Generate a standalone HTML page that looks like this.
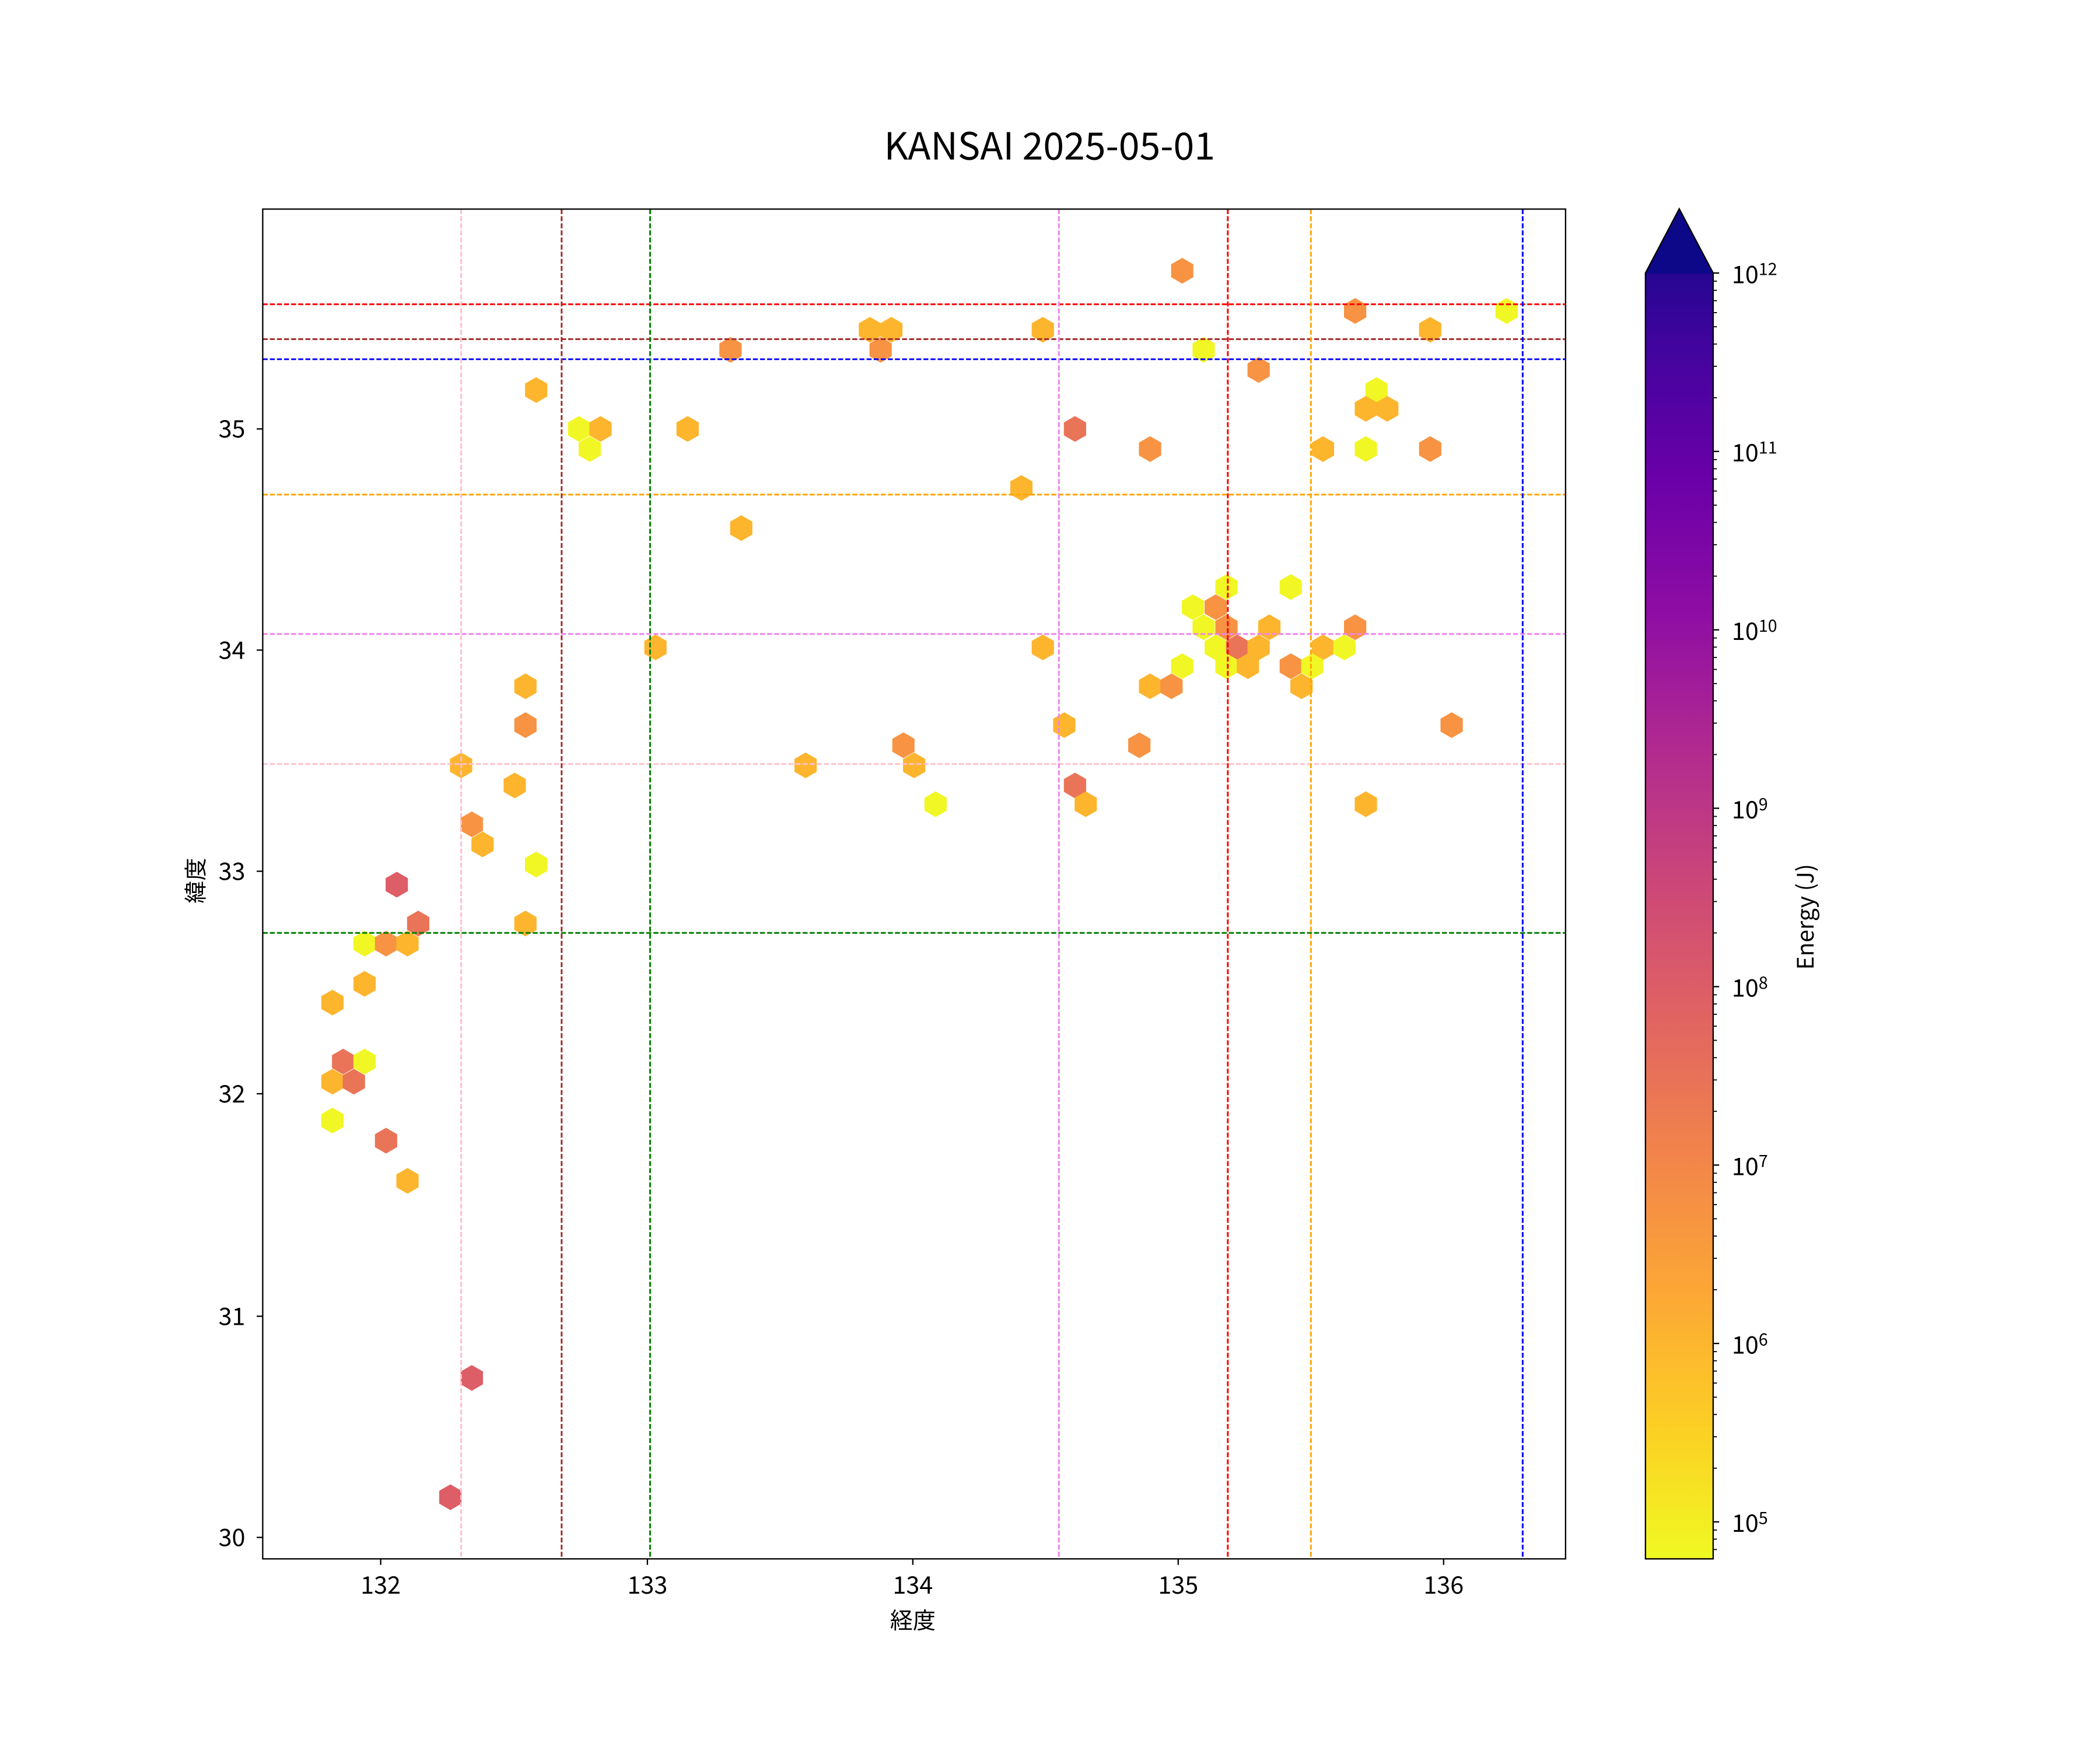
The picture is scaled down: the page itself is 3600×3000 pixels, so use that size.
<!DOCTYPE html>
<html><head><meta charset="utf-8"><style>
html,body{margin:0;padding:0;background:#fff}
svg{display:block}
text{font-family:"Noto Sans CJK JP","Liberation Sans",sans-serif;fill:#000}
</style></head><body>
<svg id="s" xmlns="http://www.w3.org/2000/svg" width="3600" height="3000" viewBox="0 0 1566.7 1305.6">
<defs>
<linearGradient id="pl" x1="0" y1="0" x2="0" y2="1">
<stop offset="0" stop-color="#0d0887"/><stop offset="0.1" stop-color="#41049d"/><stop offset="0.2" stop-color="#6a00a8"/><stop offset="0.3" stop-color="#8f0da4"/><stop offset="0.4" stop-color="#b12a90"/><stop offset="0.5" stop-color="#cc4778"/><stop offset="0.6" stop-color="#e16462"/><stop offset="0.7" stop-color="#f2844b"/><stop offset="0.8" stop-color="#fca636"/><stop offset="0.9" stop-color="#fcce25"/><stop offset="1" stop-color="#f0f921"/>
</linearGradient>
</defs>
<rect width="1566.7" height="1305.6" fill="#fff"/>
<g id="hex"></g>
<g id="lines" stroke-width="1.3" stroke-dasharray="3.7,1.6" fill="none">
<line x1="196" x2="1168" y1="227" y2="227" stroke="#ff0000"/>
<line x1="196" x2="1168" y1="253" y2="253" stroke="#a52a2a"/>
<line x1="196" x2="1168" y1="268" y2="268" stroke="#0000ff"/>
<line x1="196" x2="1168" y1="369" y2="369" stroke="#ffa500"/>
<line x1="196" x2="1168" y1="473" y2="473" stroke="#ee82ee"/>
<line x1="196" x2="1168" y1="570" y2="570" stroke="#ffc0cb"/>
<line x1="196" x2="1168" y1="696" y2="696" stroke="#008000"/>
<line y1="156" y2="1163" x1="344" x2="344" stroke="#ffc0cb"/>
<line y1="156" y2="1163" x1="419" x2="419" stroke="#a52a2a"/>
<line y1="156" y2="1163" x1="485" x2="485" stroke="#008000"/>
<line y1="156" y2="1163" x1="790" x2="790" stroke="#ee82ee"/>
<line y1="156" y2="1163" x1="916" x2="916" stroke="#ff0000"/>
<line y1="156" y2="1163" x1="978" x2="978" stroke="#ffa500"/>
<line y1="156" y2="1163" x1="1136" x2="1136" stroke="#0000ff"/>
</g>
<rect x="196" y="156" width="972" height="1007" fill="none" stroke="#000" stroke-width="1"/>
<g id="ticks" stroke="#000" stroke-width="1"></g>
<g id="tl" font-size="18"></g>
<text x="783" y="119" font-size="28" text-anchor="middle">KANSAI 2025-05-01</text>
<text x="681" y="1215" font-size="17" text-anchor="middle">経度</text>
<text transform="translate(152,657) rotate(-90)" font-size="17" text-anchor="middle">緯度</text>
<path d="M1227.6,203.7 L1252.8,155.8 L1278.1,203.7 L1278.1,1163 L1227.6,1163 Z" fill="url(#pl)" stroke="none"/>
<path d="M1227.6,204.2 L1252.8,155.8 L1278.1,204.2 Z" fill="#0d0887"/>
<path d="M1227.6,203.7 L1252.8,155.8 L1278.1,203.7 L1278.1,1163 L1227.6,1163 Z" fill="none" stroke="#000" stroke-width="1"/>
<g id="cb" stroke="#000"></g>
<text transform="translate(1353,684) rotate(-90)" font-size="17" text-anchor="middle">Energy (J)</text>
</svg>
<script>
var NS="http://www.w3.org/2000/svg";
function el(p,n,a,t){var e=document.createElementNS(NS,n);for(var k in a)e.setAttribute(k,a[k]);if(t!=null)e.textContent=t;p.appendChild(e);return e;}
var C={Y:"#f0f724",G:"#fdb52e",O:"#f79342",D:"#ea7457",R:"#dd5e66"};
var H=[[882,202,"O"],[1011,232,"O"],[1124,232,"Y"],[649,246,"G"],[665,246,"G"],[778,246,"G"],[1067,246,"G"],[545,261,"O"],[657,261,"O"],[898,261,"Y"],[939,276,"O"],[400,291,"G"],[1027,291,"Y"],[1019,305,"G"],[1035,305,"G"],[432,320,"Y"],[448,320,"G"],[513,320,"G"],[802,320,"D"],[440,335,"Y"],[858,335,"O"],[987,335,"G"],[1019,335,"Y"],[1067,335,"O"],[762,364,"G"],[553,394,"G"],[915,438,"Y"],[963,438,"Y"],[890,453,"Y"],[907,453,"O"],[898,468,"Y"],[915,468,"O"],[947,468,"G"],[1011,468,"O"],[489,483,"G"],[778,483,"G"],[907,483,"Y"],[923,483,"D"],[939,483,"G"],[987,483,"G"],[1003,483,"Y"],[882,497,"Y"],[915,497,"Y"],[931,497,"G"],[963,497,"O"],[979,497,"Y"],[392,512,"G"],[858,512,"G"],[874,512,"O"],[971,512,"G"],[392,541,"O"],[794,541,"G"],[1083,541,"O"],[674,556,"O"],[850,556,"O"],[344,571,"G"],[601,571,"G"],[682,571,"G"],[384,586,"G"],[802,586,"D"],[352,615,"O"],[698,600,"Y"],[810,600,"G"],[1019,600,"G"],[360,630,"G"],[400,645,"Y"],[296,660,"R"],[312,689,"D"],[392,689,"G"],[272,704,"Y"],[288,704,"O"],[304,704,"G"],[272,734,"G"],[248,748,"G"],[256,792,"D"],[272,792,"Y"],[248,807,"G"],[264,807,"D"],[248,836,"Y"],[288,851,"D"],[304,881,"G"],[352,1028,"R"],[336,1117,"R"]];
var hg=document.getElementById("hex");
H.forEach(function(h){var r=9.6,pts=[];for(var i=0;i<6;i++){var a=Math.PI/180*(90+60*i);pts.push((h[0]+r*Math.cos(a)).toFixed(2)+","+(h[1]-r*Math.sin(a)).toFixed(2));}
el(hg,"polygon",{points:pts.join(" "),fill:C[h[2]]});});
var tg=document.getElementById("ticks"),tl=document.getElementById("tl");
[[132,284],[133,483],[134,681],[135,879],[136,1077]].forEach(function(t){el(tg,"line",{x1:t[1],x2:t[1],y1:1163,y2:1167.5});el(tl,"text",{x:t[1],y:1189,"text-anchor":"middle"},t[0]);});
[[35,320],[34,485],[33,650],[32,816],[31,982],[30,1147]].forEach(function(t){el(tg,"line",{x1:196,x2:191.5,y1:t[1],y2:t[1]});el(tl,"text",{x:183,y:t[1]+6.5,"text-anchor":"end"},t[0]);});
var cb=document.getElementById("cb");
function yOf(v){return 203.7+(12-v)*133.1;}
for(var e=4;e<=12;e++){
 var y=yOf(e);
 if(y<=1163.5&&y>=203){el(cb,"line",{x1:1278.1,x2:1282.6,y1:y,y2:y,"stroke-width":1});
  var t=el(tl,"text",{x:1292,y:y+7.5,"font-size":"18"});t.appendChild(document.createTextNode("10"));el(t,"tspan",{dy:"-6","font-size":"12.5"},e);}
 for(var m=2;m<10;m++){var ym=yOf(e+Math.log10(m));if(ym>204&&ym<1163)el(cb,"line",{x1:1278.1,x2:1280.9,y1:ym,y2:ym,"stroke-width":0.8});}
}
</script>
</body></html>
